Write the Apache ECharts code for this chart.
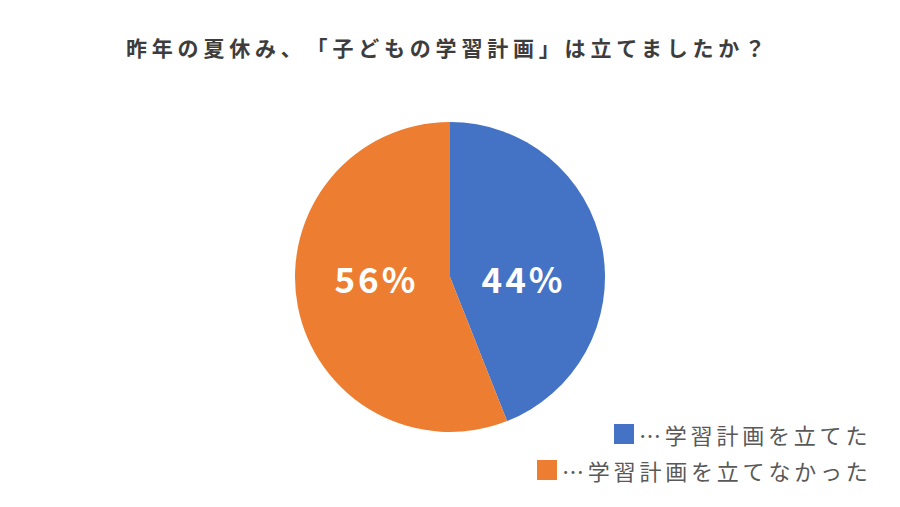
<!DOCTYPE html>
<html>
	<head>
		<meta charset="utf-8">
		<title>子どもの学習計画</title>
		<script src="https://cdn.jsdelivr.net/npm/echarts@6/dist/echarts.min.js"></script>
		<style>
			#main text { text-spacing-trim: space-all; }
		</style>
	</head>
	<body style="margin: 0px;">
		<div id="main" style="width: 900px;height:507px;"></div>
		<script type="text/javascript">
			var titleText = '昨年の夏休み、「子どもの学習計画」は立てましたか？';
			var names = ['…学習計画を立てた', '…学習計画を立てなかった'];
			var values = [44, 56];
			var colors = ['#4472C4', '#ED7D31'];

			var FONT = '"Noto Sans CJK JP", sans-serif';
			var pieCenterX = 450;
			var pieCenterY = 277;
			// letter spacing per font size (the original has widely tracked text)
			var tracking = { 21: 4.8, 22: 3.8, 35: 3 };

			var chart = echarts.init(document.getElementById('main'), null, { renderer: 'svg' });
			chart.setOption({
				backgroundColor: '#ffffff',
				title: {
					text: titleText,
					left: 126,
					top: 36,
					padding: 0,
					textStyle: {
						fontFamily: FONT,
						fontSize: 21,
						fontWeight: 'bold',
						color: '#3d3d3d'
					}
				},
				legend: [{
					data: [names[0]],
					right: 58,
					top: 418,
					icon: 'rect',
					itemWidth: 20,
					itemHeight: 20,
					textStyle: { fontFamily: FONT, fontSize: 22, color: '#595959' }
				}, {
					data: [names[1]],
					right: 69,
					top: 454,
					icon: 'rect',
					itemWidth: 20,
					itemHeight: 20,
					textStyle: { fontFamily: FONT, fontSize: 22, color: '#595959' }
				}],
				series: [{
					type: 'pie',
					center: [pieCenterX, pieCenterY],
					radius: [0, 155],
					startAngle: 90,
					clockwise: true,
					animation: false,
					label: {
						show: true,
						position: 'inside',
						formatter: '{c}%',
						color: '#ffffff',
						fontFamily: FONT,
						fontSize: 35,
						fontWeight: 'bold'
					},
					labelLine: { show: false },
					labelLayout: function (p) {
						// Excel-style: labels level with the pie centre, a bit nearer to it
						var lx = p.labelRect.x + p.labelRect.width / 2;
						return {
							x: pieCenterX + (lx - pieCenterX) * 0.93,
							y: pieCenterY,
							align: 'center',
							verticalAlign: 'middle'
						};
					},
					emphasis: { disabled: true },
					data: names.map(function (n, i) {
						return { name: n, value: values[i], itemStyle: { color: colors[i] } };
					})
				}]
			});

			function applyTracking() {
				var texts = document.querySelectorAll('#main text');
				texts.forEach(function (t) {
					var fs = Math.round(parseFloat(getComputedStyle(t).fontSize));
					if (tracking[fs]) {
						t.style.letterSpacing = tracking[fs] + 'px';
					}
				});
			}
			chart.on('finished', applyTracking);
			applyTracking();
		</script>
	</body>
</html>
